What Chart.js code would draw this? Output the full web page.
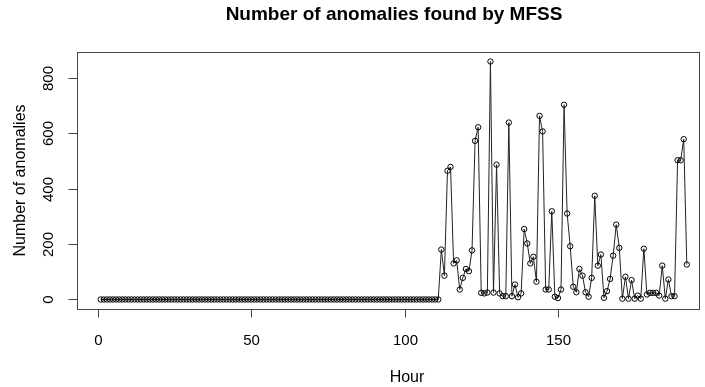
<!DOCTYPE html>
<html>
<head>
<meta charset="utf-8">
<title>Number of anomalies found by MFSS</title>
<script src="https://cdn.jsdelivr.net/npm/chart.js@4/dist/chart.umd.min.js"></script>
<style>
  html, body { margin: 0; padding: 0; background: #fff; }
  canvas { display: block; }
</style>
</head>
<body>
<canvas id="chart" width="705" height="387"></canvas>
<script>
// Anomalies counted per hour; hours 1..111 are quiet.
const quietHours = [
  0, 0, 0, 0, 0, 0, 0, 0, 0, 0,
  0, 0, 0, 0, 0, 0, 0, 0, 0, 0,
  0, 0, 0, 0, 0, 0, 0, 0, 0, 0,
  0, 0, 0, 0, 0, 0, 0, 0, 0, 0,
  0, 0, 0, 0, 0, 0, 0, 0, 0, 0,
  0, 0, 0, 0, 0, 0, 0, 0, 0, 0,
  0, 0, 0, 0, 0, 0, 0, 0, 0, 0,
  0, 0, 0, 0, 0, 0, 0, 0, 0, 0,
  0, 0, 0, 0, 0, 0, 0, 0, 0, 0,
  0, 0, 0, 0, 0, 0, 0, 0, 0, 0,
  0, 0, 0, 0, 0, 0, 0, 0, 0, 0,
  0
];
// Hours 112..192
const activeHours = [
  180, 86, 464, 478, 130, 141, 36, 78, 110, 102,
  177, 572, 621, 24, 22, 25, 858, 25, 486, 22,
  12, 12, 638, 12, 54, 8, 22, 254, 202, 130,
  154, 64, 662, 606, 36, 36, 318, 10, 5, 36,
  702, 310, 192, 46, 26, 110, 86, 26, 10, 78,
  374, 122, 162, 6, 30, 74, 158, 270, 186, 3,
  82, 3, 70, 3, 14, 3, 183, 18, 24, 24,
  24, 14, 122, 3, 72, 12, 12, 502, 502, 578,
  126
];
const anomalies = quietHours.concat(activeHours);
const hours = anomalies.map((_, i) => i + 1);

const xTicks = [0, 50, 100, 150];
const yTicks = [0, 200, 400, 600, 800];

const titleText = 'Number of anomalies found by MFSS';
const xTitle = 'Hour';
const yTitle = 'Number of anomalies';

const FONT = '"Liberation Sans", Arial, Helvetica, sans-serif';

// Base-graphics style frame, ticks and labels
const basePlotFrame = {
  id: 'basePlotFrame',
  afterDraw(chart) {
    const { ctx, chartArea: a, scales: { x, y } } = chart;
    ctx.save();
    ctx.strokeStyle = '#444';
    ctx.lineWidth = 1;
    const L = Math.round(a.left) + 0.5, T = Math.round(a.top) + 0.5;
    const R = Math.round(a.right) - 0.5, B = Math.round(a.bottom) + 0.5;
    ctx.strokeRect(L, T, R - L, B - T);

    ctx.fillStyle = '#000';
    // x axis ticks
    ctx.font = '15px ' + FONT;
    ctx.textAlign = 'center';
    ctx.textBaseline = 'alphabetic';
    xTicks.forEach(v => {
      const px = Math.round(x.getPixelForValue(v)) + 0.5;
      ctx.beginPath();
      ctx.moveTo(px, B);
      ctx.lineTo(px, B + 8);
      ctx.stroke();
      ctx.fillText(String(v), px, 345);
    });
    // y axis ticks
    yTicks.forEach(v => {
      const py = Math.round(y.getPixelForValue(v)) + 0.5;
      ctx.beginPath();
      ctx.moveTo(L, py);
      ctx.lineTo(L - 9, py);
      ctx.stroke();
      ctx.save();
      ctx.translate(53, py);
      ctx.rotate(-Math.PI / 2);
      ctx.fillText(String(v), 0, 0);
      ctx.restore();
    });

    // axis titles
    ctx.font = '16px ' + FONT;
    ctx.fillText(xTitle, 407, 382);
    ctx.save();
    ctx.translate(25, (a.top + a.bottom) / 2);
    ctx.rotate(-Math.PI / 2);
    ctx.fillText(yTitle, 0, 0);
    ctx.restore();

    // main title
    ctx.font = 'bold 19px ' + FONT;
    ctx.fillText(titleText, 394, 20);
    ctx.restore();
  }
};

new Chart(document.getElementById('chart'), {
  type: 'line',
  data: {
    datasets: [{
      data: hours.map((h, i) => ({ x: h, y: anomalies[i] })),
      borderColor: '#222',
      borderWidth: 1,
      tension: 0,
      pointRadius: 2.7,
      pointBorderWidth: 1,
      pointBorderColor: '#000',
      pointBackgroundColor: 'rgba(0,0,0,0)',
      fill: false
    }]
  },
  options: {
    responsive: false,
    devicePixelRatio: 1,
    animation: false,
    layout: { padding: { left: 0, right: 1, top: 52, bottom: 0 } },
    plugins: { legend: { display: false }, tooltip: { enabled: false } },
    scales: {
      x: {
        type: 'linear',
        min: -6.9,
        max: 196.3,
        grid: { display: false },
        border: { display: false },
        ticks: { display: false },
        afterFit: s => { s.height = 78; }
      },
      y: {
        type: 'linear',
        min: -34.3,
        max: 892.3,
        grid: { display: false },
        border: { display: false },
        ticks: { display: false },
        afterFit: s => { s.width = 76.5; }
      }
    }
  },
  plugins: [basePlotFrame]
});
</script>
</body>
</html>
